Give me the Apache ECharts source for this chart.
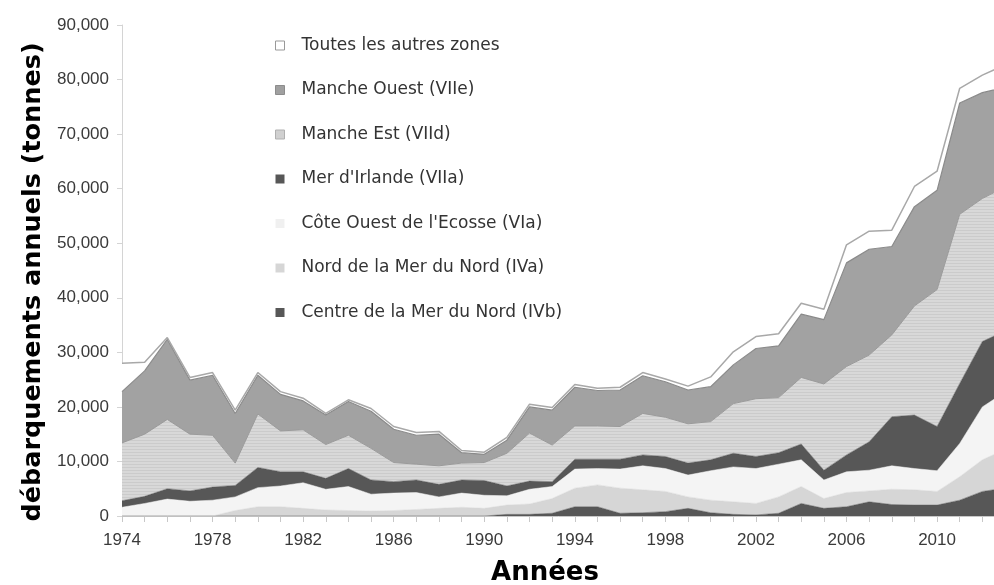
<!DOCTYPE html>
<html>
<head>
<meta charset="utf-8">
<title>Débarquements annuels</title>
<script src="https://cdn.jsdelivr.net/npm/echarts@6/dist/echarts.min.js"></script>
<style>
  html, body { margin: 0; padding: 0; background: #fff; }
  #chart { width: 994px; height: 585px; }
</style>
</head>
<body>
<div id="chart"></div>
<script>
// années (la dernière, 2013, est coupée par le bord droit)
const years = ['1974','1975','1976','1977','1978','1979','1980','1981','1982','1983',
               '1984','1985','1986','1987','1988','1989','1990','1991','1992','1993',
               '1994','1995','1996','1997','1998','1999','2000','2001','2002','2003',
               '2004','2005','2006','2007','2008','2009','2010','2011','2012','2013'];

// débarquements par zone, en tonnes (de bas en haut de la pile)
const centreMerNord = [0,0,0,0,0,0,0,0,0,0,
                       0,0,0,0,0,0,0,300,300,500,
                       1700,1700,500,600,800,1400,600,300,200,500,
                       2300,1400,1700,2600,2100,2000,2000,2900,4500,5100];
const nordMerNord = [0,0,0,0,0,1000,1700,1700,1400,1100,
                     1000,900,1000,1200,1400,1600,1400,1700,1900,2700,
                     3400,4000,4600,4200,3700,2100,2300,2300,2100,3000,
                     3100,1800,2600,2000,2800,2800,2500,4300,5800,7100];
const coteOuestEcosse = [1600,2300,3100,2700,2900,2500,3500,3800,4700,3800,
                         4400,3100,3200,3100,2100,2600,2400,1700,2700,2200,
                         3500,3000,3500,4400,4200,4000,5400,6400,6400,6000,
                         4900,3400,3800,3800,4300,3900,3800,6100,9700,10500];
const merIrlande = [1200,1300,1900,1900,2400,2100,3700,2600,2000,2000,
                    3300,2600,2100,2300,2300,2400,2700,1800,1500,900,
                    1800,1700,1800,2000,2200,2200,2000,2500,2200,2100,
                    2900,1800,3100,5200,9000,9800,8100,11000,12000,11200];
const mancheEst = [10600,11400,12700,10400,9500,4100,9800,7500,7700,6200,
                   6100,5800,3500,2900,3400,3100,3300,6000,8800,6700,
                   6100,6100,6000,7600,7200,7200,7000,9100,10600,10100,
                   12200,15800,16200,15900,15000,20000,25100,31000,26200,26400];
const mancheOuest = [9400,11600,14700,9900,11000,9100,7100,6700,5300,5400,
                     6200,6800,6100,5300,5800,1900,1500,2400,4800,6400,
                     7100,6500,6700,6900,6500,6200,6400,7100,9200,9500,
                     11600,11800,19000,19400,16200,18200,18200,20400,19400,18300];
const autresZones = [5200,1600,300,500,500,600,500,500,500,300,
                     300,500,500,500,500,400,400,500,500,500,
                     500,400,500,600,500,700,1800,2400,2200,2200,
                     2000,1900,3300,3300,3000,3700,3500,2700,3200,4100];

const yTicks = { min: 0, max: 90000, step: 10000 };

// hachures horizontales de la Manche Est
const hatch = document.createElement('canvas');
hatch.width = 4; hatch.height = 3;
const hctx = hatch.getContext('2d');
hctx.fillStyle = '#d8d8d8'; hctx.fillRect(0, 0, 4, 3);
hctx.fillStyle = '#cbcbcb'; hctx.fillRect(0, 2, 4, 1);

function areaSeries(name, data, fill, line, width) {
  return {
    name: name,
    type: 'line',
    stack: 'total',
    data: data,
    symbol: 'none',
    lineStyle: { color: line, width: width },
    itemStyle: { color: typeof fill === 'string' ? fill : '#d0d0d0' },
    areaStyle: { color: fill, opacity: 1 },
    emphasis: { disabled: true }
  };
}

const chart = echarts.init(document.getElementById('chart'), null, { renderer: 'canvas' });

chart.setOption({
  animation: false,
  backgroundColor: '#ffffff',
  grid: { left: 122, top: 25, width: 883, height: 491, outerBoundsMode: 'none' },
  legend: {
    orient: 'vertical',
    left: 275,
    top: 37,
    padding: 0,
    itemWidth: 9,
    itemHeight: 9,
    itemGap: 27.5,
    icon: 'rect',
    selectedMode: false,
    textStyle: { fontFamily: 'DejaVu Sans', fontSize: 17, color: '#333', lineHeight: 17, padding: [0, 0, 0, 12] },
    data: [
      { name: 'Toutes les autres zones', itemStyle: { color: '#ffffff', borderColor: '#999', borderWidth: 1 } },
      { name: 'Manche Ouest (VIIe)', itemStyle: { color: '#a0a0a0', borderColor: '#8c8c8c', borderWidth: 1 } },
      { name: 'Manche Est (VIId)', itemStyle: { color: '#d0d0d0', borderColor: '#b0b0b0', borderWidth: 1 } },
      { name: "Mer d'Irlande (VIIa)", itemStyle: { color: '#575757', borderWidth: 0 } },
      { name: "Côte Ouest de l'Ecosse (VIa)", itemStyle: { color: '#f0f0f0', borderWidth: 0 } },
      { name: 'Nord de la Mer du Nord (IVa)', itemStyle: { color: '#d6d6d6', borderWidth: 0 } },
      { name: 'Centre de la Mer du Nord (IVb)', itemStyle: { color: '#575757', borderWidth: 0 } }
    ]
  },
  xAxis: {
    type: 'category',
    data: years,
    boundaryGap: false,
    axisLine: { lineStyle: { color: '#c8c8c8', width: 1 } },
    axisTick: { show: true, interval: 0, length: 6, lineStyle: { color: '#c8c8c8' } },
    axisLabel: { interval: 3, color: '#3a3a3a', fontFamily: 'Liberation Sans', fontSize: 17, margin: 16 },
    splitLine: { show: false },
    name: 'Années',
    nameLocation: 'middle',
    nameGap: 44,
    nameTextStyle: { fontFamily: 'DejaVu Sans', fontWeight: 'bold', fontSize: 26, color: '#000', padding: [0, 37, 0, 0] }
  },
  yAxis: {
    type: 'value',
    min: yTicks.min,
    max: yTicks.max,
    interval: yTicks.step,
    axisLine: { show: true, lineStyle: { color: '#d4d4d4', width: 1 } },
    axisTick: { show: true, length: 5, lineStyle: { color: '#d4d4d4' } },
    axisLabel: {
      color: '#3a3a3a', fontFamily: 'Liberation Sans', fontSize: 17, margin: 13,
      formatter: v => v.toLocaleString('en-US')
    },
    splitLine: { show: false },
    name: 'débarquements annuels (tonnes)',
    nameLocation: 'middle',
    nameGap: 70,
    nameTextStyle: { fontFamily: 'DejaVu Sans', fontWeight: 'bold', fontSize: 25.5, color: '#000', padding: [0, 23, 0, 0] }
  },
  series: [
    areaSeries('Centre de la Mer du Nord (IVb)', centreMerNord, '#575757', '#575757', 0.5),
    areaSeries('Nord de la Mer du Nord (IVa)', nordMerNord, '#d6d6d6', '#d6d6d6', 0.5),
    areaSeries("Côte Ouest de l'Ecosse (VIa)", coteOuestEcosse, '#f4f4f4', '#f4f4f4', 0.5),
    areaSeries("Mer d'Irlande (VIIa)", merIrlande, '#575757', '#575757', 0.5),
    areaSeries('Manche Est (VIId)', mancheEst, { image: hatch, repeat: 'repeat' }, '#9a9a9a', 1),
    areaSeries('Manche Ouest (VIIe)', mancheOuest, '#a2a2a2', '#8a8a8a', 1.2),
    areaSeries('Toutes les autres zones', autresZones, '#ffffff', '#a8a8a8', 1.5)
  ]
});
</script>
</body>
</html>
